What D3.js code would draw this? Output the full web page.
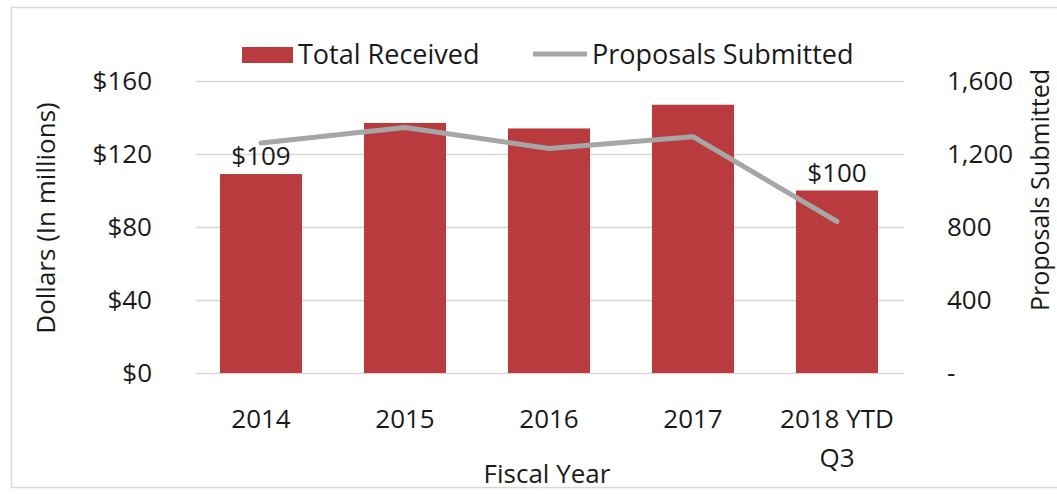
<!DOCTYPE html>
<html>
<head>
<meta charset="utf-8">
<script src="https://cdn.jsdelivr.net/npm/d3@7/dist/d3.min.js"></script>
<style>
  html, body { margin: 0; padding: 0; background: #fff; }
  svg { display: block; font-family: "Open Sans", "Liberation Sans", sans-serif; }
</style>
</head>
<body>
<svg id="chart" width="1057" height="494"></svg>
<script>
// Fiscal years and the two series
const categories = [["2014"], ["2015"], ["2016"], ["2017"], ["2018 YTD", "Q3"]];
const totalReceived = [109, 137, 134, 147, 100];        // $ millions
const proposalsSubmitted = [1260, 1345, 1230, 1295, 830];
const labelled = [true, false, false, false, true];     // bars that carry a value label
const dollarTicks = [0, 40, 80, 120, 160];
const proposalTicks = [0, 400, 800, 1200, 1600];

const svg = d3.select("#chart");

const barColor = "#b93b3d";
const lineColor = "#a6a6a6";
const gridColor = "#d9d9d9";
const textColor = "#1a1a1a";

// outer frame
svg.append("rect")
  .attr("x", 11.5).attr("y", 7.5)
  .attr("width", 1070).attr("height", 480)
  .attr("fill", "#fff").attr("stroke", "#d9d9d9").attr("stroke-width", 1.5);

const plot = { left: 189, right: 909, top: 81, bottom: 373 };

const keys = categories.map(c => c.join(" "));

const x = d3.scaleBand()
  .domain(keys)
  .range([plot.left, plot.right])
  .paddingInner(0.43)
  .paddingOuter(0.215);

const yL = d3.scaleLinear().domain([0, 160]).range([plot.bottom, plot.top]);
const yR = d3.scaleLinear().domain([0, 1600]).range([plot.bottom, plot.top]);

// gridlines
svg.append("g")
  .selectAll("line")
  .data(dollarTicks)
  .join("line")
  .attr("x1", 196).attr("x2", 904)
  .attr("y1", d => Math.round(yL(d)) + 0.5)
  .attr("y2", d => Math.round(yL(d)) + 0.5)
  .attr("stroke", gridColor).attr("stroke-width", 1.5);

// left axis labels
const leftAxis = d3.axisLeft(yL).tickValues(dollarTicks).tickSize(0).tickPadding(0)
  .tickFormat(d => "$" + d);
svg.append("g")
  .attr("transform", "translate(152,0)")
  .call(leftAxis)
  .call(g => g.select(".domain").remove())
  .call(g => g.selectAll("text")
    .attr("font-size", 26).attr("fill", textColor)
    .attr("font-family", "Open Sans, sans-serif"));

// right axis labels
const rightAxis = d3.axisRight(yR).tickValues(proposalTicks).tickSize(0).tickPadding(0)
  .tickFormat(d => d === 0 ? "-" : d3.format(",")(d));
svg.append("g")
  .attr("transform", "translate(947,0)")
  .call(rightAxis)
  .call(g => g.select(".domain").remove())
  .call(g => g.selectAll("text")
    .attr("font-size", 26).attr("fill", textColor)
    .attr("font-family", "Open Sans, sans-serif"));

// bars
svg.append("g")
  .selectAll("rect")
  .data(totalReceived)
  .join("rect")
  .attr("x", (d, i) => x(keys[i]))
  .attr("width", x.bandwidth())
  .attr("y", d => yL(d))
  .attr("height", d => yL(0) - yL(d))
  .attr("fill", barColor);

// proposals line
const line = d3.line()
  .x((d, i) => x(keys[i]) + x.bandwidth() / 2)
  .y(d => yR(d));
svg.append("path")
  .datum(proposalsSubmitted)
  .attr("d", line)
  .attr("fill", "none")
  .attr("stroke", lineColor)
  .attr("stroke-width", 5)
  .attr("stroke-linejoin", "round")
  .attr("stroke-linecap", "round");

// value labels
svg.append("g")
  .selectAll("text")
  .data(totalReceived.map((v, i) => ({ v, i })).filter(d => labelled[d.i]))
  .join("text")
  .attr("x", d => x(keys[d.i]) + x.bandwidth() / 2)
  .attr("y", d => yL(d.v) - 9)
  .attr("text-anchor", "middle")
  .attr("font-size", 26)
  .attr("fill", textColor)
  .text(d => "$" + d.v);

// category labels
const catG = svg.append("g");
categories.forEach((lines, i) => {
  const cx = x(keys[i]) + x.bandwidth() / 2;
  const t = catG.append("text")
    .attr("x", cx)
    .attr("y", 428)
    .attr("text-anchor", "middle")
    .attr("font-size", 26)
    .attr("fill", textColor);
  lines.forEach((s, j) => {
    t.append("tspan")
      .attr("x", cx)
      .attr("dy", j === 0 ? 0 : 39)
      .text(s);
  });
});

// axis titles
svg.append("text")
  .attr("x", 547).attr("y", 483)
  .attr("text-anchor", "middle")
  .attr("font-size", 26).attr("fill", textColor)
  .text("Fiscal Year");

svg.append("text")
  .attr("transform", "translate(55,218) rotate(-90)")
  .attr("text-anchor", "middle")
  .attr("font-size", 26).attr("fill", textColor)
  .text("Dollars (In millions)");

svg.append("text")
  .attr("transform", "translate(1049,190) rotate(-90)")
  .attr("text-anchor", "middle")
  .attr("font-size", 25).attr("fill", textColor)
  .text("Proposals Submitted");

// legend
const legend = svg.append("g");
legend.append("rect")
  .attr("x", 242).attr("y", 47).attr("width", 51).attr("height", 16)
  .attr("fill", barColor);
legend.append("text")
  .attr("x", 298).attr("y", 64)
  .attr("font-size", 27).attr("fill", textColor)
  .text("Total Received");
legend.append("line")
  .attr("x1", 533).attr("x2", 587).attr("y1", 54).attr("y2", 54)
  .attr("stroke", lineColor).attr("stroke-width", 5);
legend.append("text")
  .attr("x", 592).attr("y", 64)
  .attr("font-size", 27).attr("fill", textColor)
  .text("Proposals Submitted");
</script>
</body>
</html>
